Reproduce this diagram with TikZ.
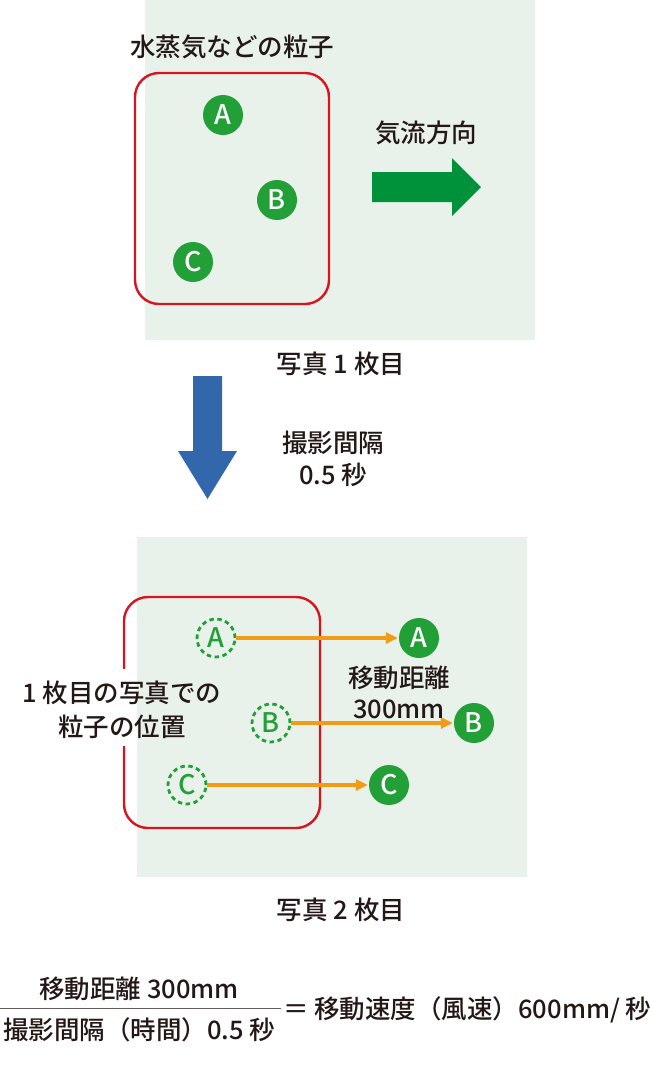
\documentclass[tikz,border=0pt]{standalone}
\usepackage{fontspec}
\setmainfont{Noto Sans CJK JP}[UprightFont=* Medium]
\usepackage{tikz}
\usetikzlibrary{arrows.meta, positioning, calc}
\definecolor{bgGreen}{HTML}{E8F2EA}
\definecolor{boxRed}{HTML}{D7141F}
\definecolor{dotGreen}{HTML}{22A037}
\definecolor{flowGreen}{HTML}{00913B}
\definecolor{downBlue}{HTML}{3367AC}
\definecolor{moveOrange}{HTML}{F29B17}
\definecolor{textDark}{HTML}{231815}

\begin{document}
\begin{tikzpicture}[
  x=1pt, y=-1pt,
  lbl/.style={text=textDark, align=center, inner sep=0pt, font=\fontsize{25.5}{32}\selectfont},
  dot/.style={circle, fill=dotGreen, minimum size=40pt, inner sep=0pt, text=white, font=\fontsize{27}{27}\selectfont},
  ghost/.style={circle, draw=dotGreen, line width=2.8pt, dash pattern=on 4.5pt off 3.5pt, minimum size=38pt, inner sep=0pt, text=dotGreen, font=\fontsize{27}{27}\selectfont},
  frame/.style={draw=boxRed, line width=2.4pt, rounded corners=24pt},
  move/.style={draw=moveOrange, line width=3.2pt, -{Triangle[length=12pt, width=11pt]}, shorten >=1pt},
]
  \useasboundingbox (0,0) rectangle (652,1069);

  % Photo 1
  \fill[bgGreen] (145,0) rectangle (535,340);
  \draw[frame] (135,73) rectangle (329,304);
  \node[lbl] (title) at (232,47) {水蒸気などの粒子};
  \node[dot] (a1) at (223,115) {A};
  \node[dot] (b1) at (277,200) {B};
  \node[dot] (c1) at (193,262) {C};
  \node[lbl] (flow) at (426,133) {気流方向};
  \fill[flowGreen] (372,172) -- (452,172) -- (452,158) -- (481,187) -- (452,216) -- (452,202) -- (372,202) -- cycle;
  \node[lbl] (photo1) at (341,364) {写真 1 枚目};

  % Interval
  \fill[downBlue] (193,376) -- (222,376) -- (222,451) -- (237,451) -- (207.5,499) -- (178,451) -- (193,451) -- cycle;
  \node[lbl] (interval) at (333,459) {撮影間隔\\0.5 秒};

  % Photo 2
  \fill[bgGreen] (137,537) rectangle (527,877);
  \draw[frame] (124,597) rectangle (320,828);
  \fill[white] (112,669) rectangle (136,746);
  \node[lbl] (oldpos) at (122,710) {1 枚目の写真での\\[2pt]粒子の位置};
  \node[ghost] (a0) at (216,638) {A};
  \node[ghost] (b0) at (271,723) {B};
  \node[ghost] (c0) at (187,785) {C};
  \node[dot] (a2) at (419,638) {A};
  \node[dot] (b2) at (474,723) {B};
  \node[dot] (c2) at (389,785) {C};
  \draw[move] (a0) -- (a2);
  \draw[move] (b0) -- (b2);
  \draw[move] (c0) -- (c2);
  \node[lbl] (dist) at (399,692) {移動距離\\[-1pt]300mm};
  \node[lbl] (photo2) at (341,910) {写真 2 枚目};

  % Formula
  \node[lbl] (num) at (139,989) {移動距離 300mm};
  \node[lbl] (den) at (139,1030) {撮影間隔（時間）0.5 秒};
  \coordinate (barL) at (0,1008);
  \coordinate (barR) at (281,1008);
  \draw[draw=textDark!70, line width=1pt] (barL) -- (barR);
  \node[lbl, anchor=west] (speed) at (283,1010) {＝ 移動速度（風速）600mm/ 秒};
\end{tikzpicture}
\end{document}
